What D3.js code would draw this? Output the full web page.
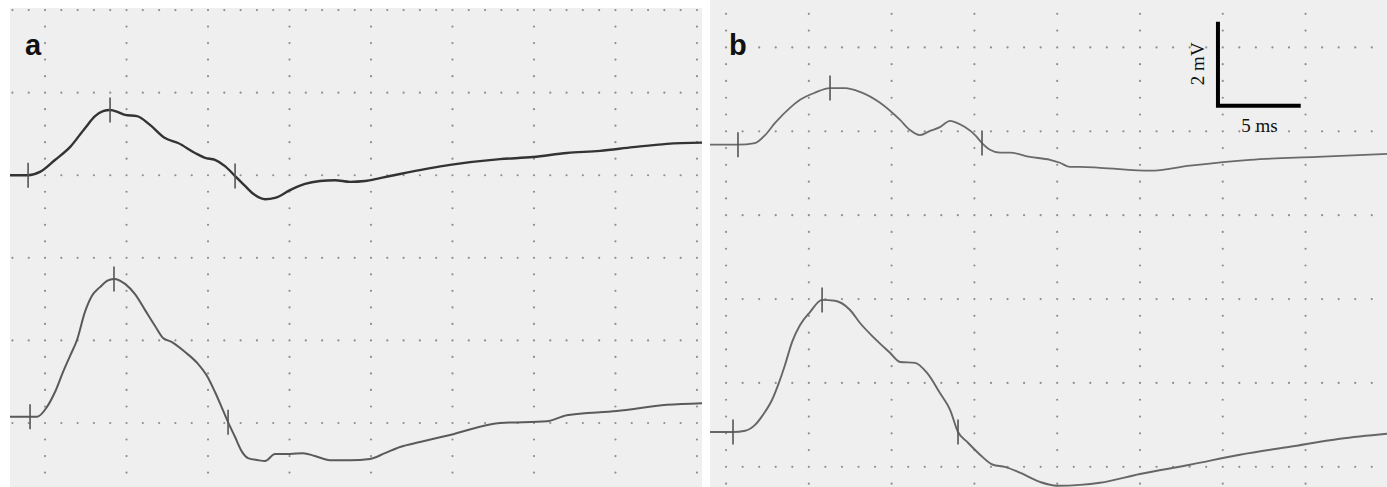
<!DOCTYPE html>
<meta charset="utf-8">
<style>

body {
	margin: 0;
	background: #fff;
}

.label {
	font: bold 29px "Liberation Sans", Arial, sans-serif;
	fill: #111;
}

.scale-text {
	font: 19px "Liberation Serif", "Times New Roman", serif;
	fill: #111;
}

.grid-dot {
	fill: #8e8e8e;
}

.marker {
	stroke: #555;
	stroke-width: 1.6;
}

</style>
<svg width="1387" height="487"></svg>
<script src="https://d3js.org/d3.v7.min.js"></script>
<script>

	// times in ms (0 = first vertical grid line), potentials in mV (screen units, 0 = bottom grid line)

	// panel a, upper trace
	var aTopTime = [-2.15, -1.04, -0.31, 0.61, 1.53, 2.45, 3.07, 3.56, 3.99, 4.48, 4.91, 5.64, 6.44, 7.36, 8.16, 9.20, 9.82, 10.43, 11.04, 11.66, 12.27, 12.88, 13.50, 14.11, 15.03, 15.95, 16.87, 17.79, 18.71, 19.63, 20.55, 21.78, 24.85, 27.91, 29.94, 32.02, 34.05, 36.07, 38.16, 40.31];
	var aTopVolt = [6.00, 6.00, 6.08, 6.37, 6.68, 7.14, 7.43, 7.55, 7.58, 7.53, 7.46, 7.43, 7.22, 6.90, 6.78, 6.54, 6.42, 6.37, 6.22, 5.98, 5.74, 5.52, 5.42, 5.45, 5.64, 5.79, 5.86, 5.88, 5.84, 5.86, 5.93, 6.03, 6.25, 6.39, 6.44, 6.54, 6.59, 6.68, 6.76, 6.79];
	var aTopMarks = [-1.04, 3.99, 11.66];

	// panel a, lower trace
	var aBotTime = [-2.15, -0.92, -0.49, 0.12, 0.61, 1.10, 1.53, 1.96, 2.45, 2.88, 3.37, 3.80, 4.23, 4.91, 5.52, 6.13, 6.75, 7.24, 7.79, 8.59, 9.39, 9.94, 10.43, 10.86, 11.23, 11.66, 12.09, 12.45, 13.07, 13.50, 14.11, 15.03, 15.83, 16.56, 17.48, 18.71, 19.94, 20.86, 21.78, 23.01, 24.85, 27.91, 30.80, 32.02, 35.09, 38.16, 40.31];
	var aBotVolt = [0.15, 0.15, 0.15, 0.39, 0.75, 1.23, 1.62, 2.01, 2.69, 3.08, 3.29, 3.44, 3.49, 3.37, 3.12, 2.74, 2.35, 2.06, 1.96, 1.72, 1.43, 1.14, 0.75, 0.36, 0.02, -0.34, -0.70, -0.85, -0.90, -0.92, -0.75, -0.75, -0.73, -0.80, -0.90, -0.90, -0.87, -0.73, -0.58, -0.46, -0.29, 0.00, 0.04, 0.19, 0.29, 0.44, 0.48];
	var aBotMarks = [-0.92, 4.23, 11.23];

	// panel b, upper trace
	var bTopTime = [-0.97, 0.72, 1.75, 2.36, 2.96, 3.86, 4.47, 5.37, 6.28, 7.19, 8.09, 9.30, 10.51, 11.11, 11.71, 12.32, 12.92, 13.53, 13.83, 14.43, 15.04, 15.46, 15.94, 16.55, 17.15, 18.36, 19.57, 20.17, 20.77, 21.38, 22.58, 25.60, 28.02, 31.64, 35.69, 39.92];
	var bTopVolt = [7.68, 7.68, 7.72, 7.91, 8.20, 8.56, 8.75, 8.92, 9.03, 9.03, 8.94, 8.68, 8.27, 8.03, 7.91, 8.01, 8.10, 8.25, 8.22, 8.10, 7.91, 7.72, 7.56, 7.49, 7.49, 7.39, 7.32, 7.25, 7.15, 7.15, 7.13, 7.06, 7.18, 7.32, 7.39, 7.46];
	var bTopMarks = [0.72, 6.28, 15.46];

	// panel b, lower trace
	var bBotTime = [-0.97, 0.42, 1.15, 1.75, 2.23, 2.78, 3.14, 3.56, 3.99, 4.47, 5.07, 5.80, 6.58, 7.49, 8.09, 8.88, 9.90, 10.51, 11.41, 12.14, 12.92, 13.53, 14.01, 14.55, 15.34, 16.12, 16.85, 17.75, 18.96, 19.99, 21.38, 22.58, 25.00, 28.02, 31.04, 34.06, 37.08, 39.92];
	var bBotVolt = [0.83, 0.83, 0.86, 1.00, 1.24, 1.60, 1.95, 2.43, 2.98, 3.38, 3.69, 3.98, 3.96, 3.74, 3.43, 3.10, 2.72, 2.50, 2.48, 2.24, 1.76, 1.36, 0.83, 0.60, 0.29, 0.05, 0.00, -0.14, -0.36, -0.45, -0.43, -0.38, -0.17, 0.05, 0.29, 0.48, 0.67, 0.79];
	var bBotMarks = [0.42, 5.80, 14.01];

	// calibration bar (panel b): corner position and lengths
	var calCorner = [29.71, 8.61];
	var calTime = 5, calVolt = 2;

	var gridTimeStep = 5, gridVoltStep = 2, subdivisions = 5;

	var svg = d3.select("svg");

	var panels = [
		{ name: "a", left: 10, right: 702, top: 8, bottom: 487, tDomain: [-2.15, 40.31], vDomain: [-1.55, 10.05],
		  traces: [
			{ t: aTopTime, v: aTopVolt, marks: aTopMarks, color: "#333", width: 2.4 },
			{ t: aBotTime, v: aBotVolt, marks: aBotMarks, color: "#5a5a5a", width: 2.0 }
		  ] },
		{ name: "b", left: 710, right: 1387, top: 0, bottom: 487, tDomain: [-0.97, 39.92], vDomain: [-0.48, 11.13],
		  traces: [
			{ t: bTopTime, v: bTopVolt, marks: bTopMarks, color: "#6a6a6a", width: 1.8 },
			{ t: bBotTime, v: bBotVolt, marks: bBotMarks, color: "#666", width: 1.9 }
		  ] }
	];

	panels.forEach(function(p, pi) {
		var x = d3.scaleLinear().domain(p.tDomain).range([p.left, p.right]),
			y = d3.scaleLinear().domain(p.vDomain).range([p.bottom, p.top]);

		var g = svg.append("g");

		g.append("clipPath")
			.attr("id", "clip" + pi)
		  .append("rect")
			.attr("x", p.left).attr("y", p.top)
			.attr("width", p.right - p.left).attr("height", p.bottom - p.top);

		g.append("rect")
			.attr("x", p.left).attr("y", p.top)
			.attr("width", p.right - p.left).attr("height", p.bottom - p.top)
			.style("fill", "#efefef");

		// dotted grid: dots every 1/5 division along each grid line
		var dots = [],
			tStep = gridTimeStep / subdivisions,
			vStep = gridVoltStep / subdivisions;

		d3.range(Math.ceil(p.tDomain[0] / gridTimeStep), Math.floor(p.tDomain[1] / gridTimeStep) + 1).forEach(function(i) {
			d3.range(Math.ceil(p.vDomain[0] / vStep), Math.floor(p.vDomain[1] / vStep) + 1).forEach(function(k) {
				dots.push([i * gridTimeStep, k * vStep]);
			});
		});
		d3.range(Math.ceil(p.vDomain[0] / gridVoltStep), Math.floor(p.vDomain[1] / gridVoltStep) + 1).forEach(function(j) {
			d3.range(Math.ceil(p.tDomain[0] / tStep), Math.floor(p.tDomain[1] / tStep) + 1).forEach(function(k) {
				if (k % subdivisions !== 0) dots.push([k * tStep, j * gridVoltStep]);
			});
		});

		g.append("g")
		  .selectAll("circle")
		  .data(dots)
		  .enter().append("circle")
			.attr("class", "grid-dot")
			.attr("cx", function(d) { return x(d[0]); })
			.attr("cy", function(d) { return y(d[1]); })
			.attr("r", 1.1);

		var line = d3.line()
			.x(function(d) { return x(d[0]); })
			.y(function(d) { return y(d[1]); })
			.curve(d3.curveMonotoneX);

		var bisect = d3.bisector(function(d) { return d; }).left;

		p.traces.forEach(function(tr) {
			var pts = tr.t.map(function(t, i) { return [t, tr.v[i]]; });

			g.append("path")
				.datum(pts)
				.attr("clip-path", "url(#clip" + pi + ")")
				.attr("d", line)
				.style("fill", "none")
				.style("stroke", tr.color)
				.style("stroke-width", tr.width)
				.style("stroke-linejoin", "round");

			// latency markers, placed on the trace
			g.selectAll(null)
			  .data(tr.marks)
			  .enter().append("line")
				.attr("class", "marker")
				.attr("x1", function(d) { return x(d); })
				.attr("x2", function(d) { return x(d); })
				.attr("y1", function(d) { return y(valueAt(d)) - 12.5; })
				.attr("y2", function(d) { return y(valueAt(d)) + 12.5; });

			function valueAt(t) {
				var i = Math.max(1, Math.min(tr.t.length - 1, bisect(tr.t, t)));
				var t0 = tr.t[i - 1], t1 = tr.t[i];
				return tr.v[i - 1] + (tr.v[i] - tr.v[i - 1]) * (t - t0) / (t1 - t0);
			}
		});

		g.append("text")
			.attr("class", "label")
			.attr("x", p.left + (pi ? 19 : 15))
			.attr("y", 55)
			.text(p.name);

		if (p.name === "b") {
			var cx = x(calCorner[0]), cy = y(calCorner[1]);
			g.append("path")
				.attr("d", "M" + cx + "," + y(calCorner[1] + calVolt) + "L" + cx + "," + cy + "L" + x(calCorner[0] + calTime) + "," + cy)
				.style("fill", "none")
				.style("stroke", "#000")
				.style("stroke-width", 4)
				.style("stroke-linejoin", "miter");

			g.append("text")
				.attr("class", "scale-text")
				.attr("text-anchor", "middle")
				.attr("transform", "translate(" + (cx - 14) + "," + y(calCorner[1] + calVolt / 2) + ") rotate(-90)")
				.text(calVolt + " mV");

			g.append("text")
				.attr("class", "scale-text")
				.attr("text-anchor", "middle")
				.attr("x", x(calCorner[0] + calTime / 2))
				.attr("y", cy + 26)
				.text(calTime + " ms");
		}
	});

</script>
